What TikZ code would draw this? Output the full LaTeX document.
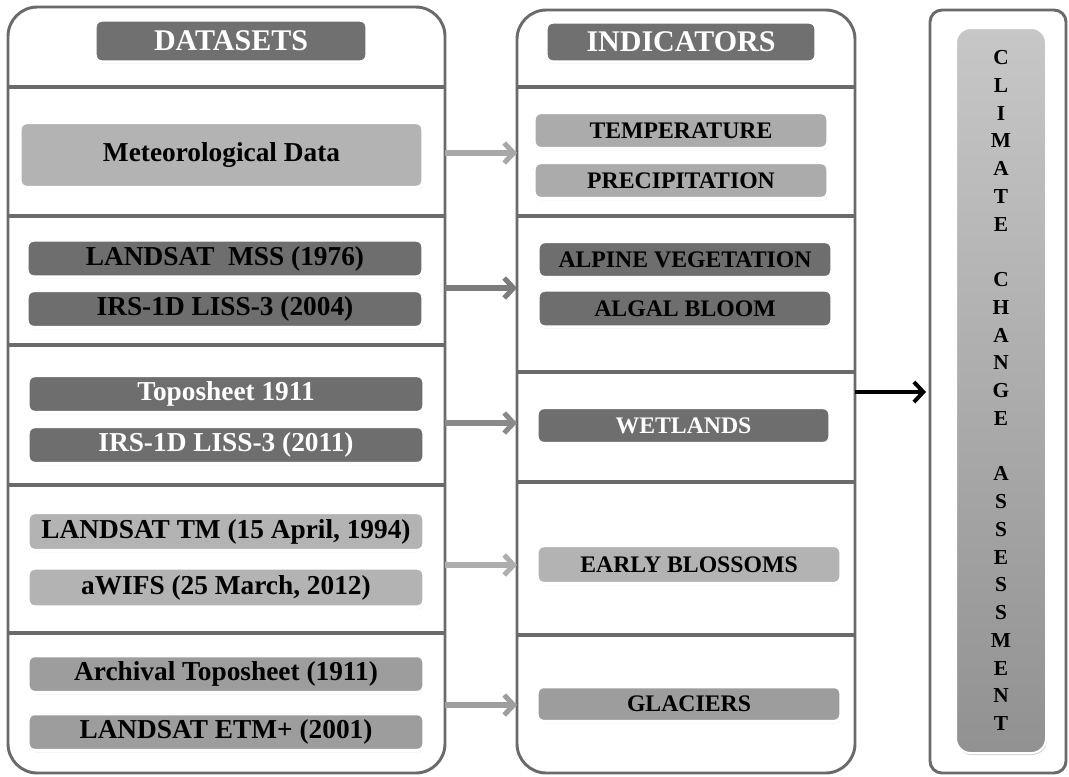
\documentclass[tikz,border=0pt]{standalone}
\usepackage{fontspec}
\setmainfont{Liberation Serif}
\usetikzlibrary{arrows.meta,shadows}
\definecolor{border}{HTML}{6A6A6A}
\definecolor{hdr}{HTML}{707070}
\definecolor{dk}{HTML}{6E6E6E}
\definecolor{md}{HTML}{9D9D9D}
\definecolor{lt}{HTML}{B3B3B3}
\definecolor{lt2}{HTML}{ABABAB}
\definecolor{ar1}{HTML}{A8A8A8}
\definecolor{ar2}{HTML}{7C7C7C}
\definecolor{ar3}{HTML}{8A8A8A}
\definecolor{ar4}{HTML}{AEAEAE}
\definecolor{ar5}{HTML}{9E9E9E}
\begin{document}
\begin{tikzpicture}[x=0.75pt,y=-0.75pt,
  panel/.style={draw=border, line width=2.2pt, fill=white, inner sep=0pt, outer sep=0pt},
  divider/.style={draw=border, line width=2.8pt},
  boxbase/.style={draw=white, line width=2.6pt, rounded corners=5pt, inner sep=0pt, outer sep=0pt,
    drop shadow={opacity=0.3, shadow xshift=0.5pt, shadow yshift=-1.3pt}},
  header/.style={boxbase, fill=hdr, text=white, font=\bfseries\fontsize{22.5}{26}\selectfont},
  ditem/.style={boxbase, font=\bfseries\fontsize{20.5}{24}\selectfont, minimum width=396*0.75pt, minimum height=37*0.75pt},
  iitem/.style={boxbase, font=\bfseries\fontsize{17.8}{21}\selectfont, minimum height=36*0.75pt},
  garrow/.style={line width=3.8pt, -{Straight Barb[length=7pt,width=15pt]}},
  karrow/.style={line width=3pt, black, -{Straight Barb[length=7pt,width=15pt]}}
]
\useasboundingbox (0,0) rectangle (1069,776);
\fill[white] (0,0) rectangle (1069,776);

% panels
\node[panel, rounded corners=22pt, minimum width=437*0.75pt, minimum height=766*0.75pt] (ds) at (226.5,390) {};
\node[panel, rounded corners=22pt, minimum width=338*0.75pt, minimum height=763*0.75pt] (ind) at (686,391.5) {};
\node[panel, rounded corners=9pt, minimum width=136*0.75pt, minimum height=763*0.75pt] (cc) at (998,391.5) {};

% dividers
\foreach \yy in {87,216,345,485,633}
  \draw[divider] (ds.west |- 0,\yy) -- (ds.east |- 0,\yy);
\foreach \yy in {87,216,372,482,635}
  \draw[divider] (ind.west |- 0,\yy) -- (ind.east |- 0,\yy);

% headers
\node[header, minimum width=272*0.75pt, minimum height=42*0.75pt] (dsh) at (231,41) {DATASETS};
\node[header, minimum width=270*0.75pt, minimum height=40*0.75pt] (indh) at (681,42) {INDICATORS};

% dataset items
\node[ditem, fill=lt, minimum width=403*0.75pt, minimum height=65*0.75pt] (met) at (221.5,155) {Meteorological Data};
\node[ditem, fill=dk] (mss) at (225,258.5) {LANDSAT\ \ MSS (1976)};
\node[ditem, fill=dk] (irs4) at (225,309) {IRS-1D LISS-3 (2004)};
\node[ditem, fill=dk, text=white] (topo) at (226,394) {Toposheet 1911};
\node[ditem, fill=dk, text=white] (irs11) at (226,445) {IRS-1D LISS-3 (2011)};
\node[ditem, fill=lt, minimum height=38*0.75pt] (tm) at (226,531.5) {LANDSAT TM (15 April, 1994)};
\node[ditem, fill=lt, minimum height=39*0.75pt] (awifs) at (226,587.5) {aWIFS (25 March, 2012)};
\node[ditem, fill=md] (arch) at (226,674) {Archival Toposheet (1911)};
\node[ditem, fill=md] (etm) at (226,732) {LANDSAT ETM+ (2001)};

% indicator items
\node[iitem, fill=lt2, minimum width=294*0.75pt] (temp) at (681,130.5) {TEMPERATURE};
\node[iitem, fill=lt2, minimum width=294*0.75pt] (prec) at (681,180.5) {PRECIPITATION};
\node[iitem, fill=dk, minimum width=294*0.75pt] (alp) at (685,259.5) {ALPINE VEGETATION};
\node[iitem, fill=dk, minimum width=294*0.75pt, minimum height=37*0.75pt] (alg) at (685,308.5) {ALGAL BLOOM};
\node[iitem, fill=dk, text=white, minimum width=293*0.75pt] (wet) at (683.5,425.5) {WETLANDS};
\node[iitem, fill=lt, minimum width=304*0.75pt, minimum height=38*0.75pt] (early) at (689,564.5) {EARLY BLOSSOMS};
\node[iitem, fill=md, minimum width=304*0.75pt, minimum height=35*0.75pt] (glac) at (689,704) {GLACIERS};

% climate change assessment bar
\node[draw=white, line width=1.5pt, rounded corners=11pt, top color=black!22, bottom color=black!43,
  drop shadow={opacity=0.35, shadow xshift=0.6pt, shadow yshift=-1.5pt},
  minimum width=90*0.75pt, minimum height=725*0.75pt, inner sep=0pt, align=center,
  font=\bfseries\fontsize{16}{20.81}\selectfont] (cca) at (1001,390.5)
  {C\\L\\I\\M\\A\\T\\E\\[20.81pt]C\\H\\A\\N\\G\\E\\[20.81pt]A\\S\\S\\E\\S\\S\\M\\E\\N\\T};

% connector end points
\coordinate (s1) at (ds.east |- 0,153);   \coordinate (e1) at (ind.west |- 0,153);
\coordinate (s2) at (ds.east |- 0,288);   \coordinate (e2) at (ind.west |- 0,288);
\coordinate (s3) at (ds.east |- 0,423);   \coordinate (e3) at (ind.west |- 0,423);
\coordinate (s4) at (ds.east |- 0,565);   \coordinate (e4) at (ind.west |- 0,565);
\coordinate (s5) at (ds.east |- 0,705);   \coordinate (e5) at (ind.west |- 0,705);
\coordinate (s6) at (ind.east |- 0,392);  \coordinate (e6) at ([xshift=-3pt]cc.west |- 0,392);

\draw[garrow, ar1] (s1) -- (e1);
\draw[garrow, ar2] (s2) -- (e2);
\draw[garrow, ar3] (s3) -- (e3);
\draw[garrow, ar4] (s4) -- (e4);
\draw[garrow, ar5] (s5) -- (e5);
\draw[karrow] (s6) -- (e6);
\end{tikzpicture}
\end{document}
